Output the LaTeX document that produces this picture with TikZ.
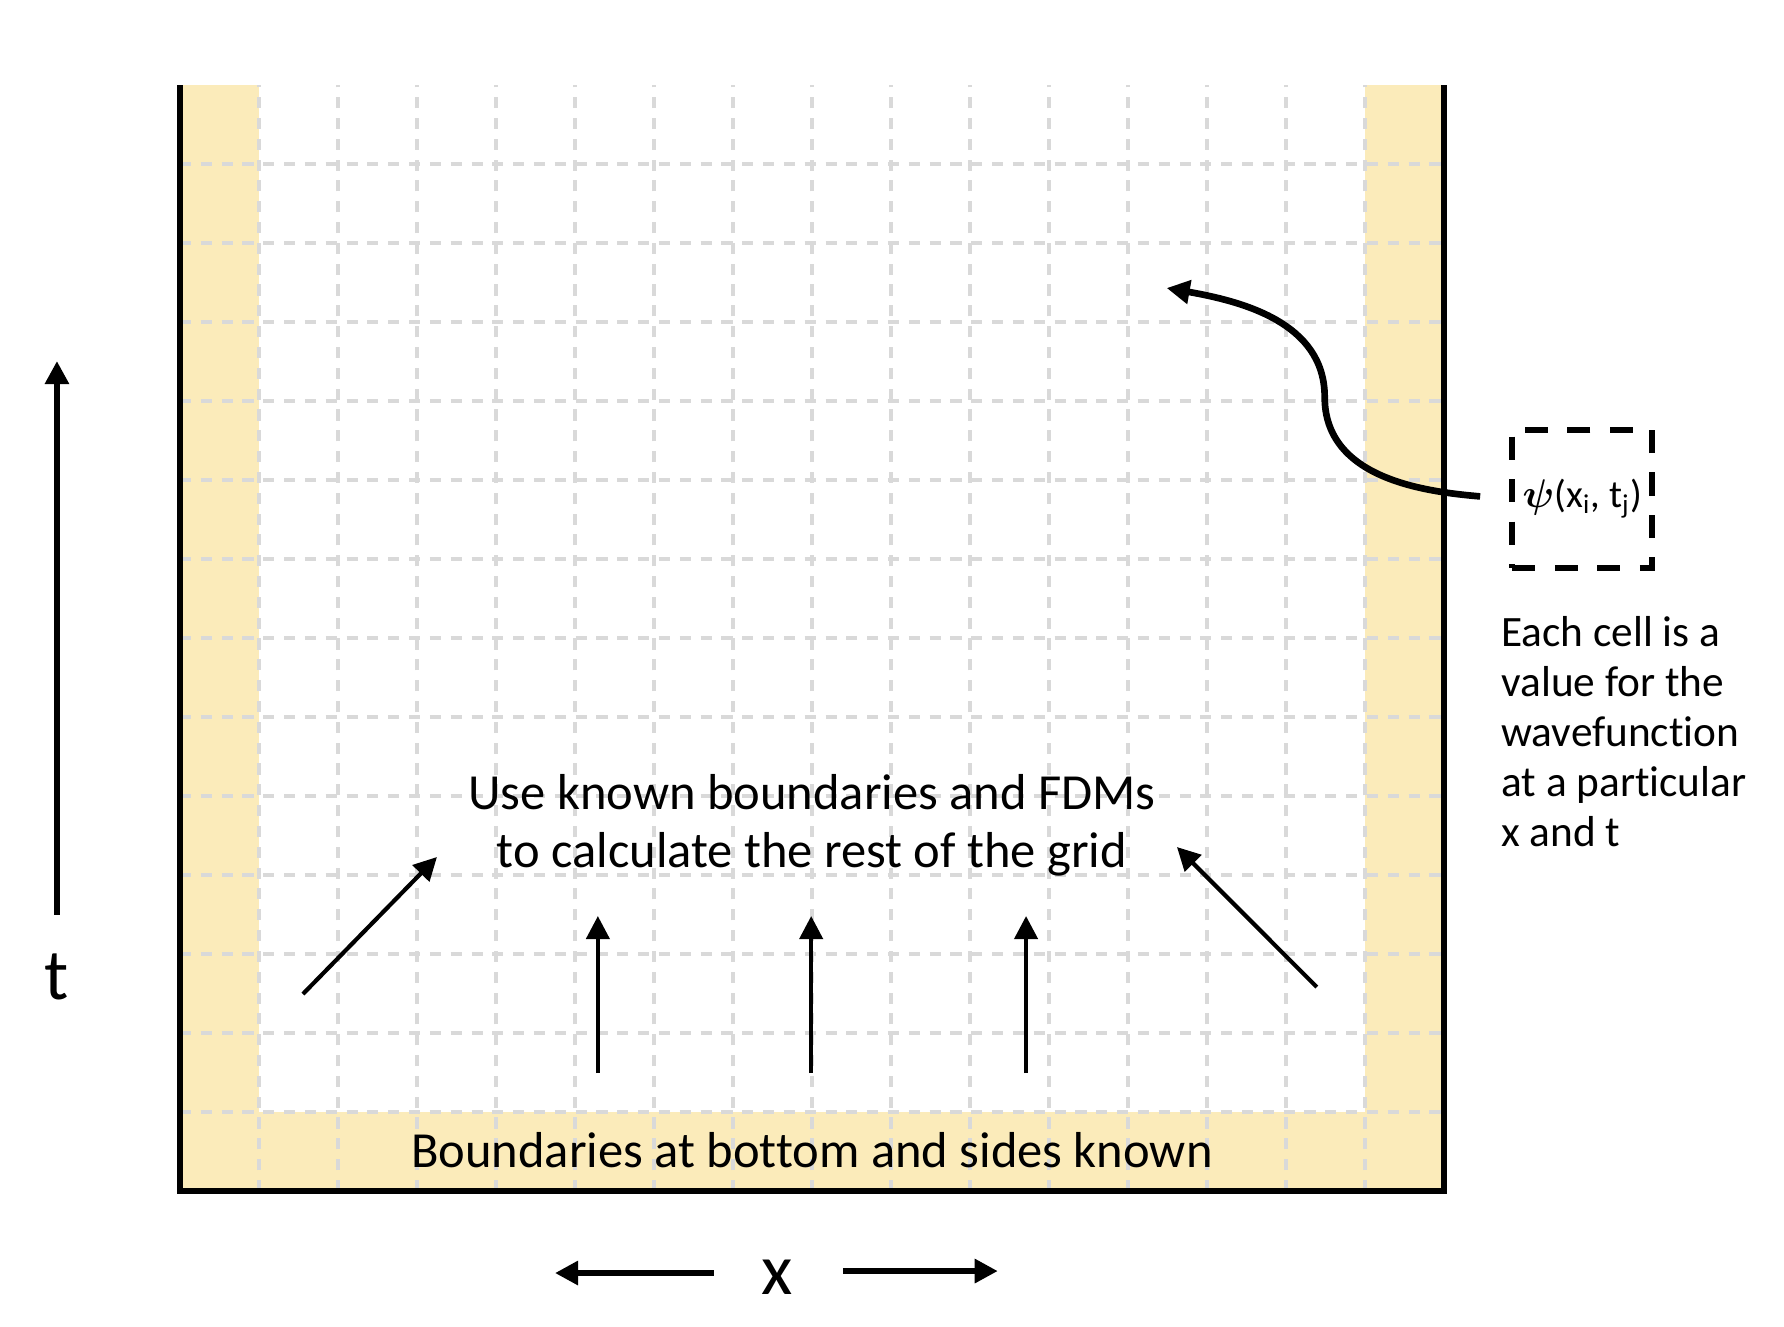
\documentclass[tikz,border=0pt]{standalone}
\usepackage{bm}
\usepackage{fontspec}
\setmainfont{Carlito}[Ligatures={NoCommon,NoContextual}, RawFeature=-liga]
\usepackage{tikz}
\usetikzlibrary{arrows.meta, positioning}
\definecolor{boundyellow}{HTML}{FBEBBA}
\definecolor{gridgray}{HTML}{D9D9D9}

\begin{document}
\begin{tikzpicture}[
    gridline/.style={gridgray, line width=1.2pt, dash pattern=on 4pt off 3.5pt},
    headtip/.style={-{Triangle[length=8.3pt, width=8.3pt]}},
    pusharrow/.style={headtip, line width=1.5pt},
    axisarrow/.style={headtip, line width=2.2pt},
    curvearrow/.style={headtip, line width=2.4pt},
    maintext/.style={font=\fontsize{18.2}{21}\selectfont, inner sep=0pt},
    notetext/.style={font=\fontsize{15.6}{18}\selectfont, align=left, inner sep=0pt},
    axislabel/.style={font=\fontsize{26}{30}\selectfont, inner sep=0pt},
    psibox/.style={draw, line width=2.2pt, dash pattern=on 8.3pt off 7pt,
                   minimum width=1.77cm, minimum height=1.75cm, inner sep=0pt,
                   font=\fontsize{14}{18}\selectfont}
]
\useasboundingbox (-2.278,-1.709) rectangle (20.304,15.076);

% known boundary cells
\fill[boundyellow] (0,0) rectangle (1,14);
\fill[boundyellow] (15,0) rectangle (16,14);
\fill[boundyellow] (1,0) rectangle (15,1);

% grid
\foreach \i in {1,...,15}
    \draw[gridline] (\i,0) -- (\i,14);
\foreach \j in {1,...,13}
    \draw[gridline] (0,\j) -- (16,\j);
\draw[line width=2pt] (0,14) -- (0,0) -- (16,0) -- (16,14);

% texts
\node[maintext] (bound) at (8,0.52) {Boundaries at bottom and sides known};
\node[maintext, align=center] (calc) at (8,4.63) {Use known boundaries and FDMs\\to calculate the rest of the grid};
\node[psibox] (psi) at (17.75,8.76) {{\fontsize{14.5}{18}\selectfont$\bm{\psi}$}(x\textsubscript{i}, t\textsubscript{j})};
\node[notetext, anchor=west] (note) at (16.72,5.81) {Each cell is a\\value for the\\wavefunction\\at a particular\\x and t};
\node[axislabel] (tlab) at (-1.557,2.71) {t};
\node[axislabel] (xlab) at (7.557,-1.089) {x};

% axes
\draw[axisarrow] (tlab.center) ++(0,0.784) -- ++(0,7.012);
\draw[axisarrow] (xlab.center) ++(-0.8,0.051) -- ++(-2.01,0);
\draw[axisarrow] (xlab.center) ++(0.835,0.076) -- ++(1.96,0);

% marching arrows
\draw[pusharrow] (1.557,2.494) -- (3.253,4.228);
\foreach \ax in {5.29,7.99,10.71}
    \draw[pusharrow] (\ax,1.494) -- (\ax,3.481);
\draw[pusharrow] (14.39,2.582) -- (12.62,4.354);

% cell pointer
\coordinate (cellpt) at (12.49,11.43);
\draw[curvearrow, shorten <=0.37cm] (psi.west) to[out=175, in=-90] (14.49,10.05) to[out=90, in=-10] (cellpt);
\end{tikzpicture}
\end{document}
